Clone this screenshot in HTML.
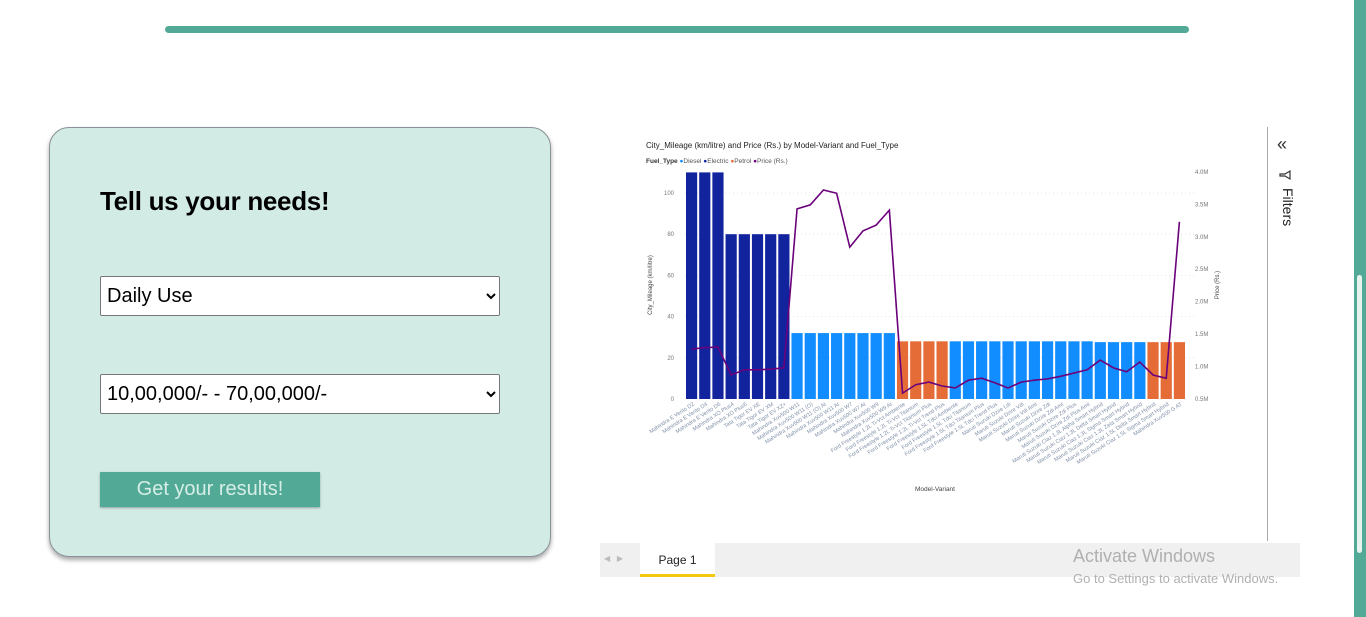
<!DOCTYPE html>
<html><head><meta charset="utf-8"><style>
body{margin:0;width:1366px;height:617px;overflow:hidden;background:#fff;font-family:"Liberation Sans",sans-serif;position:relative}
.abs{position:absolute}
select{font-family:"Liberation Sans",sans-serif;font-size:20px;background:#fff;border:1px solid #777;border-radius:2px;color:#000;padding:0 2px}
</style></head><body>
<div class="abs" style="left:165px;top:26px;width:1024px;height:7px;border-radius:4px;background:#52aa96"></div>
<div class="abs" style="left:1354px;top:0;width:12px;height:617px;background:#52aa96"></div>
<div class="abs" style="left:1357px;top:275px;width:5px;height:278px;border-radius:3px;background:#e8f2ef"></div>

<div class="abs" style="left:49px;top:127px;width:500px;height:428px;background:#d3ebe5;border:1.5px solid #8a9199;border-radius:20px;box-shadow:0 3px 5px rgba(0,0,0,.35)">
  <div class="abs" style="left:50px;top:58px;font-size:26px;font-weight:bold;color:#000;letter-spacing:-0.3px">Tell us your needs!</div>
  <select class="abs" style="left:50px;top:148px;width:400px;height:40px"><option>Daily Use</option></select>
  <select class="abs" style="left:50px;top:246px;width:400px;height:40px"><option>10,00,000/- - 70,00,000/-</option></select>
  <div class="abs" style="left:50px;top:344px;width:220px;height:35px;background:#52aa96;color:#d6eee7;font-size:20px;line-height:35px;text-align:center;box-shadow:0 1px 2px rgba(0,0,0,.3)">Get your results!</div>
</div>

<div class="abs" style="left:1267px;top:127px;width:1px;height:414px;background:#aaa"></div>
<div class="abs" style="left:1277px;top:134px;font-size:18px;color:#333">«</div>
<svg class="abs" style="left:1278px;top:168px" width="14" height="14"><path d="M3 2 L11 2 L8 7 L8 12 L6 12 L6 7 Z" fill="none" stroke="#333" stroke-width="1.2" transform="rotate(90 7 7)"/></svg>
<div class="abs" style="left:1276px;top:188px;width:20px;font-size:14px;color:#222;writing-mode:vertical-rl">Filters</div>

<div class="abs" style="left:600px;top:543px;width:700px;height:34px;background:#f0f0f0"></div>
<div class="abs" style="left:604px;top:554px;font-size:8px;color:#bbb">◀&nbsp;&nbsp;&nbsp;▶</div>
<div class="abs" style="left:640px;top:543px;width:75px;height:31px;background:#fff;border-bottom:3px solid #f2c811;font-size:12px;line-height:34px;text-align:center;color:#222">Page 1</div>
<div class="abs" style="left:1073px;top:546px;font-size:18px;color:#b0b0b0">Activate Windows</div>
<div class="abs" style="left:1073px;top:571px;font-size:13px;color:#b0b0b0">Go to Settings to activate Windows.</div>

<svg class="abs" style="left:0;top:0" width="1366" height="617" id="chart"></svg>
<script>
const categories=["Mahindra E Verito D2","Mahindra E Verito D4","Mahindra E Verito D6","Mahindra XO Plus4","Mahindra XO Plus6","Tata Tigor EV XE","Tata Tigor EV XM","Tata Tigor EV XZ+","Mahindra Xuv500 W11","Mahindra Xuv500 W11 (O)","Mahindra Xuv500 W11 (O) At","Mahindra Xuv500 W11 At","Mahindra Xuv500 W7","Mahindra Xuv500 W7 At","Mahindra Xuv500 W9","Mahindra Xuv500 W9 At","Ford Freestyle 1.2L Ti-Vct Ambiente","Ford Freestyle 1.2L Ti-Vct Titanium","Ford Freestyle 1.2L Ti-Vct Titanium Plus","Ford Freestyle 1.2L Ti-Vct Trend Plus","Ford Freestyle 1.5L Tdci Ambiente","Ford Freestyle 1.5L Tdci Titanium","Ford Freestyle 1.5L Tdci Titanium Plus","Ford Freestyle 1.5L Tdci Trend Plus","Maruti Suzuki Dzire Ldi","Maruti Suzuki Dzire Vdi","Maruti Suzuki Dzire Vdi Amt","Maruti Suzuki Dzire Zdi","Maruti Suzuki Dzire Zdi Amt","Maruti Suzuki Dzire Zdi Plus","Maruti Suzuki Dzire Zdi Plus Amt","Maruti Suzuki Ciaz 1.3L Alpha Smart Hybrid","Maruti Suzuki Ciaz 1.3L Delta Smart Hybrid","Maruti Suzuki Ciaz 1.3L Sigma Smart Hybrid","Maruti Suzuki Ciaz 1.3L Zeta Smart Hybrid","Maruti Suzuki Ciaz 1.5L Delta Smart Hybrid","Maruti Suzuki Ciaz 1.5L Sigma Smart Hybrid","Mahindra Xuv500 G AT"];
const fuelTypes=["E","E","E","E","E","E","E","E","D","D","D","D","D","D","D","D","P","P","P","P","D","D","D","D","D","D","D","D","D","D","D","D","D","D","D","P","P","P"];
const mileage=[110,110,110,80,80,80,80,80,32,32,32,32,32,32,32,32,28,28,28,28,28,28,28,28,28,28,28,28,28,28,28,27.6,27.6,27.6,27.6,27.6,27.6,27.6];
const priceM=[1.27,1.29,1.30,0.87,0.95,0.95,0.96,0.98,3.43,3.49,3.72,3.67,2.84,3.09,3.18,3.41,0.59,0.72,0.76,0.70,0.67,0.79,0.82,0.75,0.67,0.76,0.79,0.81,0.85,0.90,0.95,1.10,0.98,0.92,1.07,0.87,0.82,3.23];
const leftTicks=[0,20,40,60,80,100];
const rightTicks=["0.5M","1.0M","1.5M","2.0M","2.5M","3.0M","3.5M","4.0M"];
const rightVals=[0.5,1,1.5,2,2.5,3,3.5,4];
const colors={E:"#12239e",D:"#118dff",P:"#e66c37"};
const svg=document.getElementById('chart');const NS="http://www.w3.org/2000/svg";
const X0=685,X1=1186,Y0=399;
const step=(X1-X0)/categories.length;
const yL=v=>Y0-v*2.06;
const yR=v=>Y0-(v-0.5)*64.9;
const xC=i=>X0+step*(i+0.5);
function mk(t,a,txt){const e=document.createElementNS(NS,t);for(const k in a)e.setAttribute(k,a[k]);if(txt!==undefined)e.textContent=txt;svg.appendChild(e);return e;}
let e;
e=mk('text',{x:646,y:148,'font-size':8,fill:'#252423'},'City_Mileage (km/litre) and Price (Rs.) by Model-Variant and Fuel_Type');


e=mk('text',{x:646,y:163,'font-size':6.5,fill:'#555'},'');
e.innerHTML='<tspan font-weight="bold" fill="#333">Fuel_Type</tspan> <tspan fill="#118dff">●</tspan>Diesel <tspan fill="#12239e">●</tspan>Electric <tspan fill="#e66c37">●</tspan>Petrol <tspan fill="#6b007b">●</tspan>Price (Rs.)';


leftTicks.forEach(v=>{
  if(v>0){e=mk('line',{x1:X0,x2:X1+10,y1:yL(v),y2:yL(v),stroke:'#ddd','stroke-dasharray':'1 3','stroke-width':0.8});
  
  }
  e=mk('text',{x:674,y:yL(v)+2,'font-size':6,fill:'#777','text-anchor':'end'},v);
  
  
});
rightTicks.forEach((t,i)=>{
  e=mk('text',{x:1195,y:yR(rightVals[i])+2,'font-size':6,fill:'#777'},t);
  
  
});
e=mk('text',{x:0,y:0,'font-size':6,fill:'#444','text-anchor':'middle',transform:'translate(652,285) rotate(-90)'},'City_Mileage (km/litre)');


e=mk('text',{x:0,y:0,'font-size':6,fill:'#444','text-anchor':'middle',transform:'translate(1219,285) rotate(-90)'},'Price (Rs.)');


e=mk('text',{x:935,y:491,'font-size':6.5,fill:'#444','text-anchor':'middle'},'Model-Variant');


categories.forEach((c,i)=>{
  e=mk('rect',{x:xC(i)-step/2+1,y:yL(mileage[i]),width:step-2,height:Y0-yL(mileage[i]),fill:colors[fuelTypes[i]]});
  
  
  e=mk('text',{x:0,y:0,'font-size':5.5,fill:'#8090a8','text-anchor':'end',transform:`translate(${xC(i)+3},${Y0+6}) rotate(-33)`},c);
  
  
});
e=mk('polyline',{points:priceM.map((v,i)=>xC(i)+','+yR(v)).join(' '),fill:'none',stroke:'#6b007b','stroke-width':1.6});


</script>
</body></html>
